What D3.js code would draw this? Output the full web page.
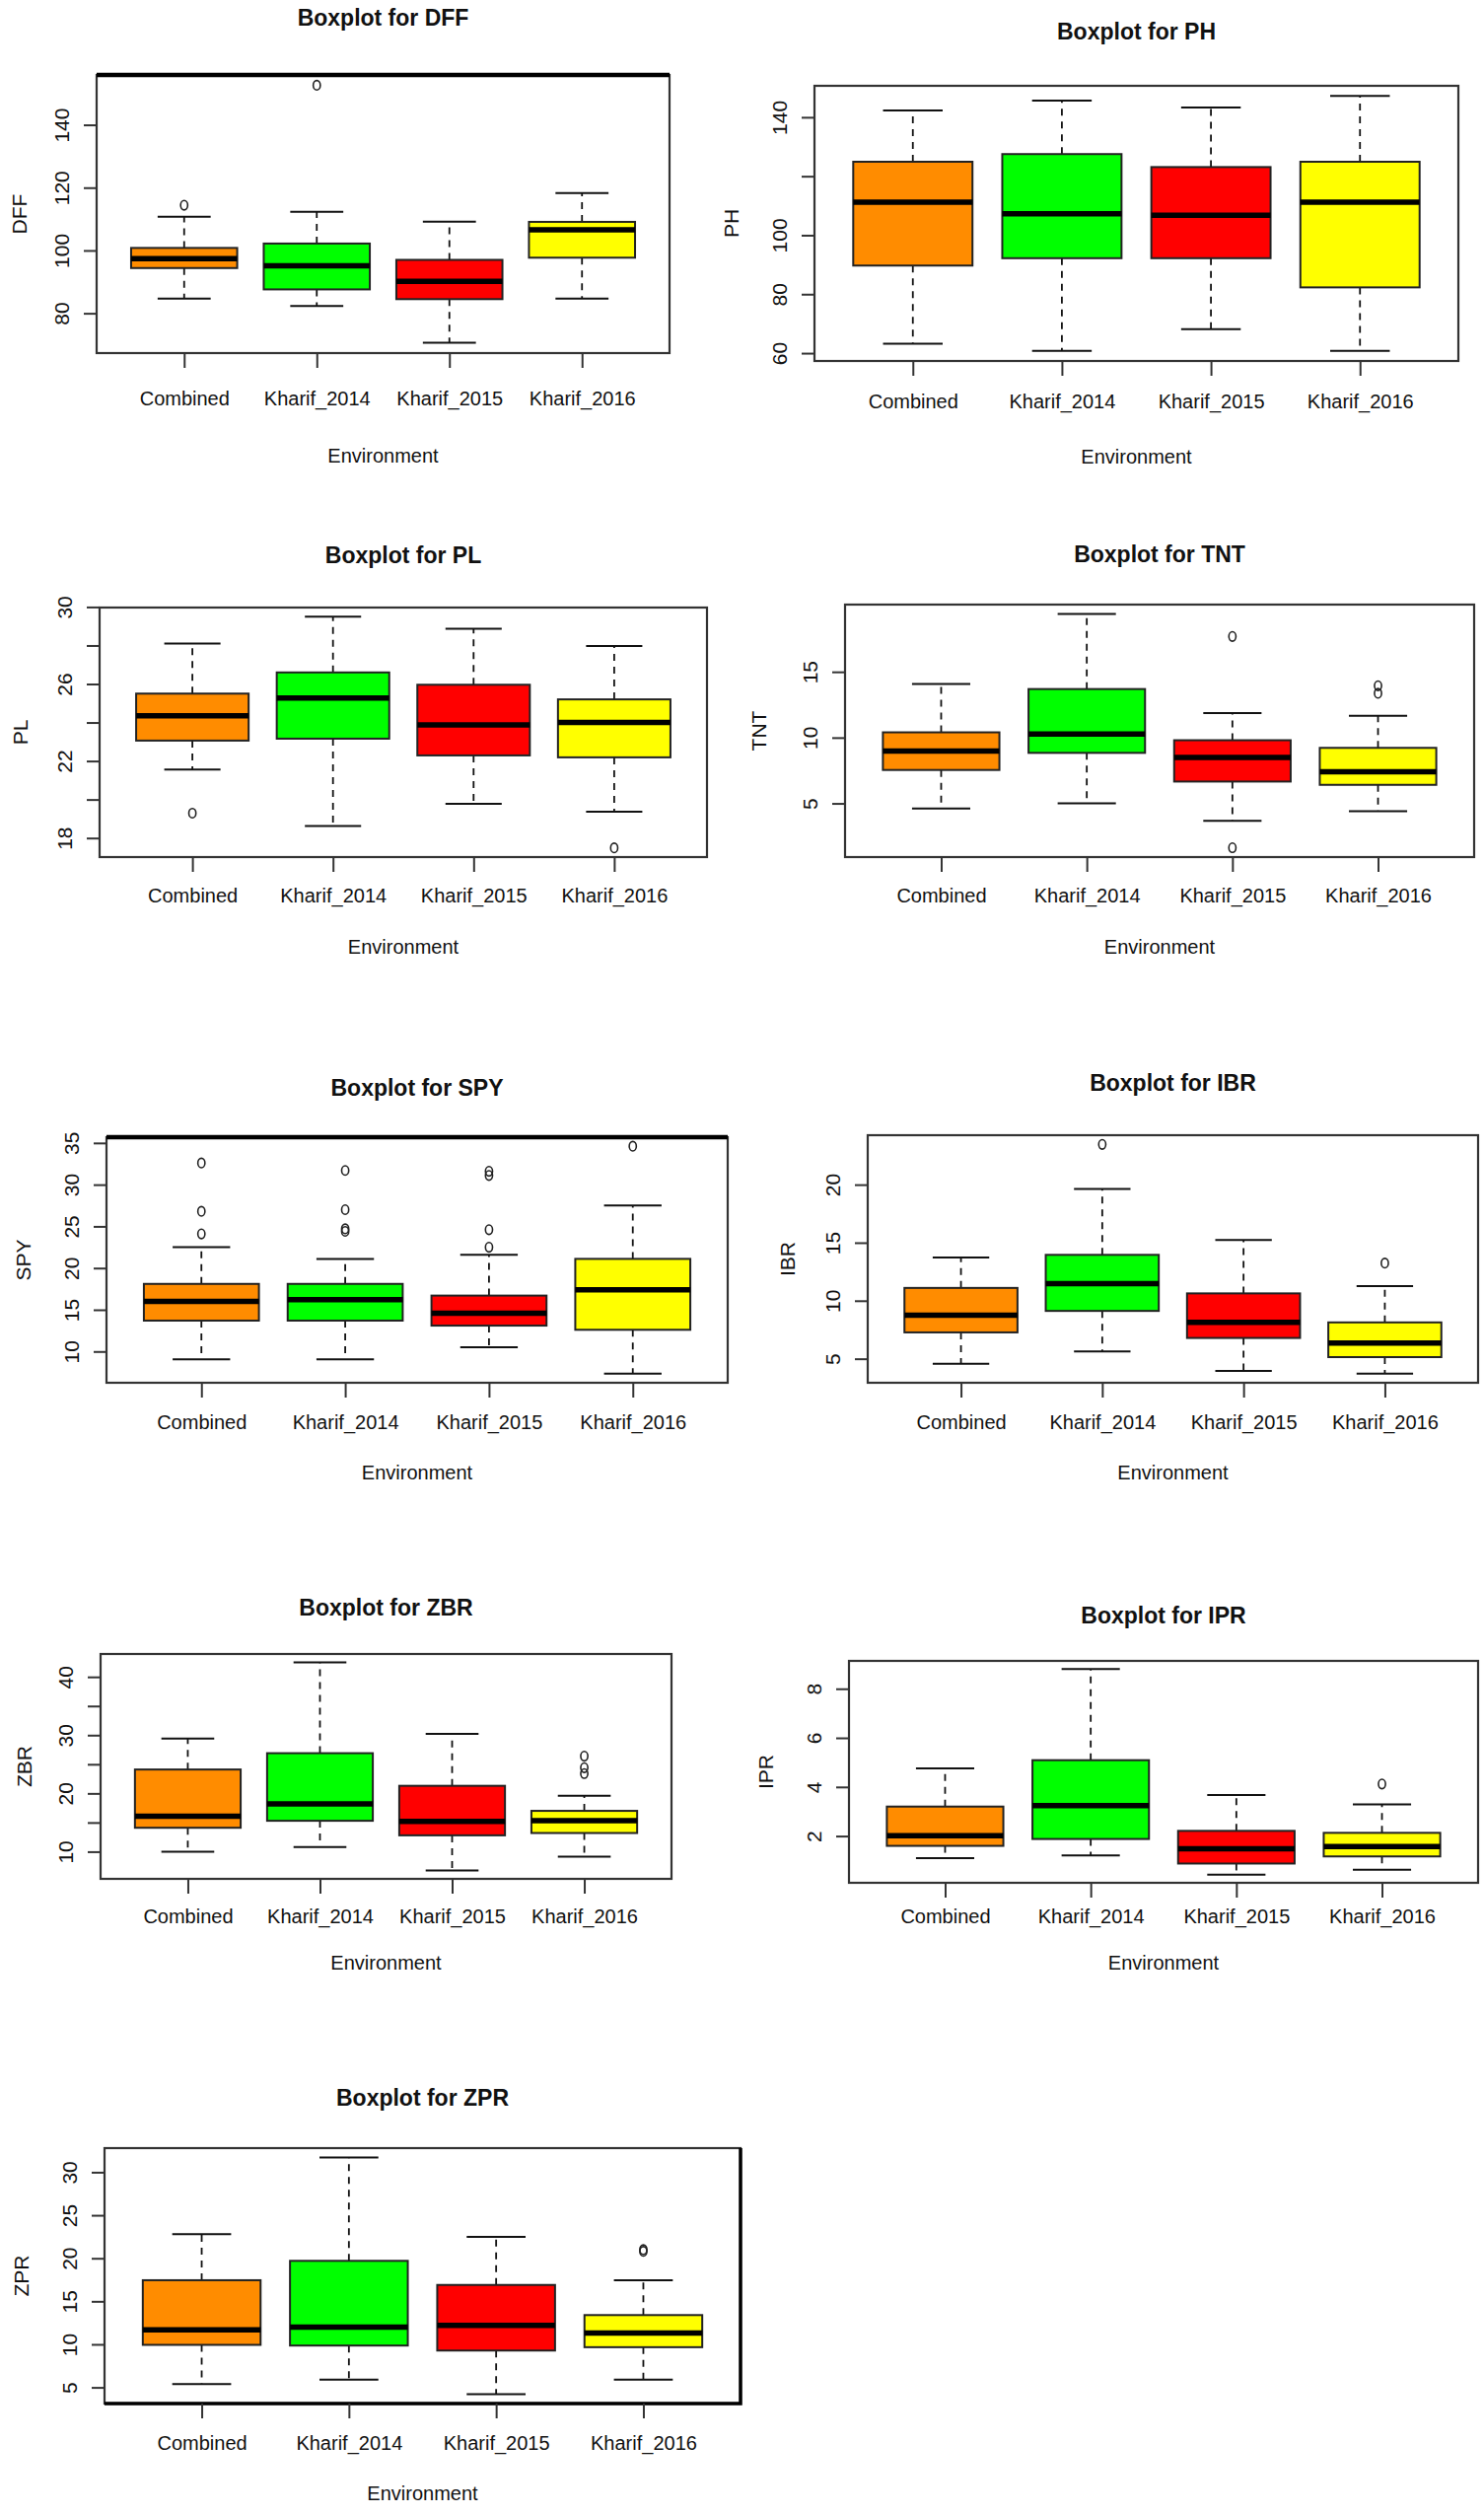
<!DOCTYPE html>
<html>
<head>
<meta charset="utf-8">
<script src="https://cdn.jsdelivr.net/npm/d3@7"></script>
<style>
  html, body { margin: 0; padding: 0; background: #fff; }
  svg { display: block; }
  text { font-family: "Liberation Sans", Arial, Helvetica, sans-serif; fill: #111; }
</style>
</head>
<body>
<svg id="chart" width="1505" height="2550"></svg>
<script>
// ---------------- DATA ----------------
const environments = ["Combined", "Kharif_2014", "Kharif_2015", "Kharif_2016"];
const boxColors = ["#FF8C00", "#00FF00", "#FF0000", "#FFFF00"];
const traits = ["DFF", "PH", "PL", "TNT", "SPY", "IBR", "ZBR", "IPR", "ZPR"];

// five-number summaries per environment: [lower whisker, Q1, median, Q3, upper whisker]
const DFF_stats = [[84.7, 94.4, 97.4, 100.8, 110.7], [82.3, 87.6, 95.1, 102.2, 112.3], [70.6, 84.5, 90.2, 97.0, 109.2], [84.7, 97.7, 106.6, 109.1, 118.3]];
const DFF_out = [[114.4], [152.6], [], []];
const DFF_ticks = [80, 100, 120, 140];
const DFF_labels = [80, 100, 120, 140];

const PH_stats = [[63.2, 89.7, 111.2, 124.9, 142.3], [60.8, 92.2, 107.3, 127.5, 145.6], [68.1, 92.2, 106.8, 123.1, 143.3], [60.8, 82.3, 111.2, 124.9, 147.2]];
const PH_out = [[], [], [], []];
const PH_ticks = [60, 80, 100, 120, 140];
const PH_labels = [60, 80, 100, 140];

const PL_stats = [[21.55, 23.06, 24.35, 25.5, 28.1], [18.63, 23.16, 25.27, 26.6, 29.49], [19.77, 22.29, 23.88, 25.96, 28.87], [19.37, 22.19, 24.0, 25.2, 27.97]];
const PL_out = [[19.29], [], [], [17.49]];
const PL_ticks = [18, 20, 22, 24, 26, 28, 30];
const PL_labels = [18, 22, 26, 30];

const TNT_stats = [[4.62, 7.54, 8.97, 10.4, 14.07], [5.0, 8.84, 10.28, 13.69, 19.4], [3.67, 6.66, 8.49, 9.8, 11.86], [4.40, 6.41, 7.41, 9.22, 11.66]];
const TNT_out = [[], [], [17.69, 1.63], [13.94, 13.37]];
const TNT_ticks = [5, 10, 15];
const TNT_labels = [5, 10, 15];

const SPY_stats = [[9.05, 13.7, 16.0, 18.1, 22.5], [9.05, 13.7, 16.2, 18.1, 21.1], [10.5, 13.1, 14.6, 16.7, 21.6], [7.34, 12.6, 17.4, 21.1, 27.5]];
const SPY_out = [[32.6, 26.8, 24.1], [31.7, 27.0, 24.7, 24.4], [31.6, 31.1, 24.6, 22.5], [34.6]];
const SPY_ticks = [10, 15, 20, 25, 30, 35];
const SPY_labels = [10, 15, 20, 25, 30, 35];

const IBR_stats = [[4.57, 7.27, 8.75, 11.1, 13.72], [5.63, 9.12, 11.48, 13.95, 19.63], [3.95, 6.79, 8.13, 10.63, 15.23], [3.72, 5.14, 6.34, 8.13, 11.25]];
const IBR_out = [[], [23.47], [], [13.24]];
const IBR_ticks = [5, 10, 15, 20];
const IBR_labels = [5, 10, 15, 20];

const ZBR_stats = [[10.0, 14.1, 16.1, 24.1, 29.4], [10.8, 15.3, 18.2, 26.9, 42.5], [6.76, 12.8, 15.2, 21.3, 30.2], [9.16, 13.2, 15.3, 17.0, 19.6]];
const ZBR_out = [[], [], [], [26.4, 24.4, 23.4]];
const ZBR_ticks = [10, 15, 20, 25, 30, 35, 40];
const ZBR_labels = [10, 20, 30, 40];

const IPR_stats = [[1.1, 1.6, 2.01, 3.2, 4.76], [1.21, 1.88, 3.24, 5.09, 8.8], [0.43, 0.88, 1.48, 2.21, 3.67], [0.63, 1.17, 1.57, 2.13, 3.29]];
const IPR_out = [[], [], [], [4.12]];
const IPR_ticks = [2, 4, 6, 8];
const IPR_labels = [2, 4, 6, 8];

const ZPR_stats = [[5.39, 9.94, 11.7, 17.45, 22.8], [5.9, 9.86, 12.0, 19.7, 31.7], [4.22, 9.28, 12.2, 16.9, 22.5], [5.9, 9.67, 11.3, 13.4, 17.45]];
const ZPR_out = [[], [], [], [21.0, 20.8]];
const ZPR_ticks = [5, 10, 15, 20, 25, 30];
const ZPR_labels = [5, 10, 15, 20, 25, 30];

const traitData = {
  DFF: [DFF_stats, DFF_out, DFF_ticks, DFF_labels],
  PH: [PH_stats, PH_out, PH_ticks, PH_labels],
  PL: [PL_stats, PL_out, PL_ticks, PL_labels],
  TNT: [TNT_stats, TNT_out, TNT_ticks, TNT_labels],
  SPY: [SPY_stats, SPY_out, SPY_ticks, SPY_labels],
  IBR: [IBR_stats, IBR_out, IBR_ticks, IBR_labels],
  ZBR: [ZBR_stats, ZBR_out, ZBR_ticks, ZBR_labels],
  IPR: [IPR_stats, IPR_out, IPR_ticks, IPR_labels],
  ZPR: [ZPR_stats, ZPR_out, ZPR_ticks, ZPR_labels]
};

// ---------------- LAYOUT (page positions of each panel) ----------------
const layout = {
  DFF: { L: 98,  R: 679,  T: 76,   B: 358,  titleY: 26,   ylabX: 20,  xlabY: 411,  envY: 469,  thickTop: true },
  PH:  { L: 826, R: 1479, T: 87,   B: 366,  titleY: 40,   ylabX: 742, xlabY: 414,  envY: 470 },
  PL:  { L: 101, R: 717,  T: 616,  B: 869,  titleY: 571,  ylabX: 21,  xlabY: 915,  envY: 967 },
  TNT: { L: 857, R: 1495, T: 613,  B: 869,  titleY: 570,  ylabX: 770, xlabY: 915,  envY: 967 },
  SPY: { L: 108, R: 738,  T: 1153, B: 1402, titleY: 1111, ylabX: 24,  xlabY: 1449, envY: 1500, thickTop: true },
  IBR: { L: 880, R: 1499, T: 1151, B: 1402, titleY: 1106, ylabX: 799, xlabY: 1449, envY: 1500 },
  ZBR: { L: 102, R: 681,  T: 1677, B: 1905, titleY: 1638, ylabX: 25,  xlabY: 1950, envY: 1997 },
  IPR: { L: 861, R: 1499, T: 1684, B: 1909, titleY: 1646, ylabX: 777, xlabY: 1950, envY: 1997 },
  ZPR: { L: 106, R: 751,  T: 2178, B: 2437, titleY: 2135, ylabX: 22,  xlabY: 2484, envY: 2535, thickBR: true }
};

// ---------------- DRAW ----------------
const svg = d3.select("#chart");
const nGroups = environments.length;

traits.forEach(trait => {
  const [stats, outs, ticks, labels] = traitData[trait];
  const P = layout[trait];
  const g = svg.append("g");

  // R-style axis ranges: 4% extension
  const allVals = stats.flat().concat(outs.flat());
  const lo = d3.min(allVals), hi = d3.max(allVals);
  const pad = 0.04 * (hi - lo);
  const y = d3.scaleLinear().domain([lo - pad, hi + pad]).range([P.B, P.T]);
  const xr = [0.5, nGroups + 0.5];
  const xpad = 0.04 * (xr[1] - xr[0]);
  const x = d3.scaleLinear().domain([xr[0] - xpad, xr[1] + xpad]).range([P.L, P.R]);
  const bw = (x(1.4) - x(0.6)); // box width 0.8
  const sw = bw / 2;            // staple width

  const groups = environments.map((env, i) => ({ env, i, s: stats[i], o: outs[i], c: boxColors[i] }));

  // whiskers (dashed)
  const wg = g.append("g");
  groups.forEach(d => {
    const cx = x(d.i + 1);
    wg.append("line").attr("x1", cx).attr("x2", cx).attr("y1", y(d.s[3])).attr("y2", y(d.s[4]))
      .attr("stroke", "#111").attr("stroke-width", 1.8).attr("stroke-dasharray", "7,6");
    wg.append("line").attr("x1", cx).attr("x2", cx).attr("y1", y(d.s[1])).attr("y2", y(d.s[0]))
      .attr("stroke", "#111").attr("stroke-width", 1.8).attr("stroke-dasharray", "7,6");
    // staples
    [0, 4].forEach(k => {
      wg.append("line").attr("x1", cx - sw / 2).attr("x2", cx + sw / 2)
        .attr("y1", y(d.s[k])).attr("y2", y(d.s[k]))
        .attr("stroke", "#111").attr("stroke-width", 2);
    });
  });

  // boxes
  g.selectAll("rect.box").data(groups).join("rect").attr("class", "box")
    .attr("x", d => x(d.i + 1) - bw / 2)
    .attr("width", bw)
    .attr("y", d => y(d.s[3]))
    .attr("height", d => y(d.s[1]) - y(d.s[3]))
    .attr("fill", d => d.c)
    .attr("stroke", "#222").attr("stroke-width", 2);

  // medians
  g.selectAll("line.med").data(groups).join("line").attr("class", "med")
    .attr("x1", d => x(d.i + 1) - bw / 2).attr("x2", d => x(d.i + 1) + bw / 2)
    .attr("y1", d => y(d.s[2])).attr("y2", d => y(d.s[2]))
    .attr("stroke", "#000").attr("stroke-width", 5.5);

  // outliers
  const outPts = groups.flatMap(d => d.o.map(v => ({ i: d.i, v })));
  g.selectAll("ellipse.out").data(outPts).join("ellipse").attr("class", "out")
    .attr("cx", d => x(d.i + 1)).attr("cy", d => y(d.v))
    .attr("rx", 3.6).attr("ry", 4.8)
    .attr("fill", "none").attr("stroke", "#222").attr("stroke-width", 1.6);

  // frame
  g.append("rect").attr("x", P.L).attr("y", P.T).attr("width", P.R - P.L).attr("height", P.B - P.T)
    .attr("fill", "none").attr("stroke", "#333").attr("stroke-width", 2.2);
  if (P.thickTop) {
    g.append("line").attr("x1", P.L).attr("x2", P.R).attr("y1", P.T).attr("y2", P.T)
      .attr("stroke", "#000").attr("stroke-width", 4.5);
  }
  if (P.thickBR) {
    g.append("path").attr("d", `M${P.L},${P.B}H${P.R}V${P.T}`)
      .attr("fill", "none").attr("stroke", "#000").attr("stroke-width", 3.5);
  }

  // y axis
  const yAxis = d3.axisLeft(y).tickValues(ticks).tickSize(13)
    .tickFormat(v => labels.includes(v) ? String(v) : "");
  const ya = g.append("g").attr("transform", `translate(${P.L},0)`).call(yAxis);
  ya.select(".domain").remove();
  ya.selectAll(".tick line").attr("stroke", "#333").attr("stroke-width", 2);
  ya.selectAll(".tick text")
    .attr("x", null).attr("dy", null)
    .attr("transform", "translate(-28,0) rotate(-90)")
    .attr("text-anchor", "middle")
    .attr("font-size", 21)
    .attr("font-family", "Liberation Sans, Arial, sans-serif")
    .attr("fill", "#222");

  // x axis
  const xAxis = d3.axisBottom(x).tickValues(environments.map((e, i) => i + 1)).tickSize(15)
    .tickFormat(v => environments[v - 1]);
  const xa = g.append("g").attr("transform", `translate(0,${P.B})`).call(xAxis);
  xa.select(".domain").remove();
  xa.selectAll(".tick line").attr("stroke", "#333").attr("stroke-width", 2);
  xa.selectAll(".tick text")
    .attr("y", P.xlabY - P.B).attr("dy", null)
    .attr("font-size", 20)
    .attr("font-family", "Liberation Sans, Arial, sans-serif")
    .attr("fill", "#222");

  // title
  const cx = (P.L + P.R) / 2;
  g.append("text").attr("x", cx).attr("y", P.titleY).attr("text-anchor", "middle")
    .attr("font-weight", "bold").attr("font-size", 23).text("Boxplot for " + trait);

  // axis titles
  g.append("text").attr("x", cx).attr("y", P.envY).attr("text-anchor", "middle")
    .attr("font-size", 20).attr("fill", "#222").text("Environment");
  const cy = (P.T + P.B) / 2;
  g.append("text").attr("transform", `translate(${P.ylabX + 7},${cy}) rotate(-90)`)
    .attr("text-anchor", "middle").attr("font-size", 21).attr("fill", "#222").text(trait);
});
</script>
</body>
</html>
